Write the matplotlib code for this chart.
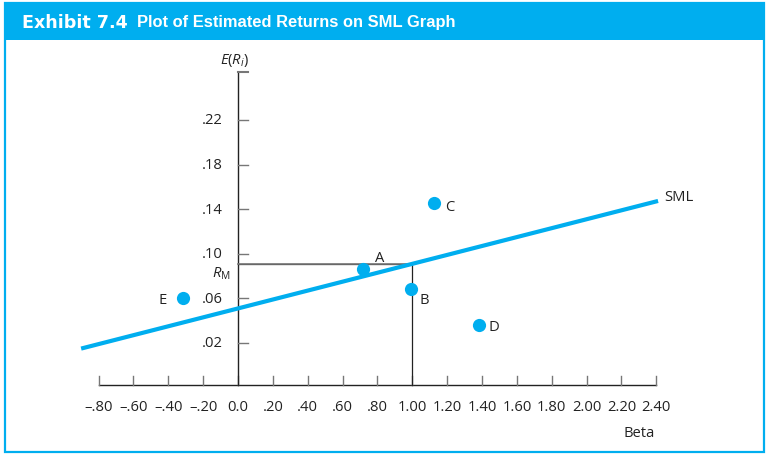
import numpy as np
import matplotlib.pyplot as plt
from matplotlib.patches import Rectangle

plt.rcParams['font.family'] = ['Open Sans', 'DejaVu Sans']
plt.rcParams['mathtext.fontset'] = 'custom'
plt.rcParams['mathtext.it'] = 'Open Sans:italic'
plt.rcParams['mathtext.rm'] = 'Open Sans'

x_ticks = [-0.8, -0.6, -0.4, -0.2, 0.0, 0.2, 0.4, 0.6, 0.8, 1.0,
           1.2, 1.4, 1.6, 1.8, 2.0, 2.2, 2.4]
x_tick_labels = ['\u2013.80', '\u2013.60', '\u2013.40', '\u2013.20', '0.0', '.20', '.40',
                 '.60', '.80', '1.00', '1.20', '1.40', '1.60', '1.80', '2.00',
                 '2.20', '2.40']
y_ticks = [0.02, 0.06, 0.10, 0.14, 0.18, 0.22]
y_tick_labels = ['.02', '.06', '.10', '.14', '.18', '.22']
rf = 0.051          # SML intercept
rm = 0.091          # market return at beta = 1
sml_beta = [-0.9, 2.41]
stocks = ['A', 'B', 'C', 'D', 'E']
stock_beta = [0.72, 0.99, 1.125, 1.38, -0.316]
stock_ret = [0.0865, 0.068, 0.1455, 0.0365, 0.060]
x_axis_level = -0.0177
y_axis_top = 0.263

CYAN = '#00AEEF'
W, H = 766, 460
# pixel scale of the drawing
X0, XS = 238, 174.3
Y0, YS = 366.3, 1115.0
FS = 10.6

fig = plt.figure(figsize=(W / 100, H / 100), dpi=100)
ax = fig.add_axes([0, 0, 1, 1])
ax.set_xlim(-X0 / XS, (W - X0) / XS)
ax.set_ylim((Y0 - H) / YS, Y0 / YS)
ax.axis('off')

# frame and header
fig.patches.append(Rectangle((5 / W, 1 - 453 / H), 759 / W, 449 / H, transform=fig.transFigure,
                             fill=False, edgecolor=CYAN, linewidth=1.6))
fig.patches.append(Rectangle((5 / W, 1 - 40.5 / H), 759 / W, 36.5 / H, transform=fig.transFigure,
                             facecolor=CYAN, edgecolor='none'))
fig.text(22 / W, 1 - 23 / H, 'Exhibit 7.4', family='DejaVu Sans', weight='bold',
         fontsize=12.6, color='white', va='center')
fig.text(137 / W, 1 - 23 / H, 'Plot of Estimated Returns on SML Graph', family='Liberation Sans',
         weight='bold', fontsize=11.9, color='white', va='center')

axis_col = '#222222'
tick_col = '#777777'
tlx = 10 / XS   # y tick length in beta units
tly = 9 / YS    # x tick length in return units

# x axis
ax.plot([x_ticks[0], x_ticks[-1]], [x_axis_level, x_axis_level], color=axis_col, lw=1)
for xt, lab in zip(x_ticks, x_tick_labels):
    ax.plot([xt, xt], [x_axis_level, x_axis_level + tly], color=tick_col, lw=1)
    ax.text(xt, x_axis_level - 21 / YS, lab, ha='center', va='center', fontsize=FS, color='#222222')
ax.text(2.3, x_axis_level - 47 / YS, 'Beta', ha='center', va='center', fontsize=FS, color='#222222')

# y axis
ax.plot([0, 0], [x_axis_level, y_axis_top], color=axis_col, lw=1)
ax.plot([0, tlx], [y_axis_top, y_axis_top], color=tick_col, lw=1.5)
for yt, lab in zip(y_ticks, y_tick_labels):
    ax.plot([0, tlx], [yt, yt], color=tick_col, lw=1)
    ax.text(-15 / XS, yt, lab, ha='right', va='center', fontsize=FS, color='#222222')
ax.text(-3 / XS, y_axis_top + 13 / YS, r'$E(R_i)$', ha='center', va='center', fontsize=FS, color='#222222')

# market return guide lines
ax.plot([0, 1, 1], [rm, rm, x_axis_level], color=axis_col, lw=0.9)
ax.plot([0, 1], [rm, rm], color=tick_col, lw=1.2)
ax.text(-17 / XS, rm - 9 / YS, r'$R_{\mathrm{M}}$', ha='center', va='center', fontsize=FS, color='#222222')

# SML
sml_ret = [rf + (rm - rf) * b for b in sml_beta]
ax.plot(sml_beta, sml_ret, color=CYAN, lw=3, solid_capstyle='butt', zorder=3)
ax.annotate('SML', (sml_beta[-1], sml_ret[-1]), xytext=(6, 4), textcoords='offset pixels',
            ha='left', va='center', fontsize=FS, color='#222222')

# estimated returns
ax.plot(stock_beta, stock_ret, 'o', color=CYAN, ms=9.5, mec='none', zorder=4)
offsets = {'A': (16, 11), 'B': (14, -10), 'C': (16, -3), 'D': (15, -2), 'E': (-20, -1)}
for name, b, r in zip(stocks, stock_beta, stock_ret):
    ax.annotate(name, (b, r), xytext=offsets[name], textcoords='offset pixels',
                ha='center', va='center', fontsize=FS, color='#222222')

plt.savefig('out.png', dpi=100)
